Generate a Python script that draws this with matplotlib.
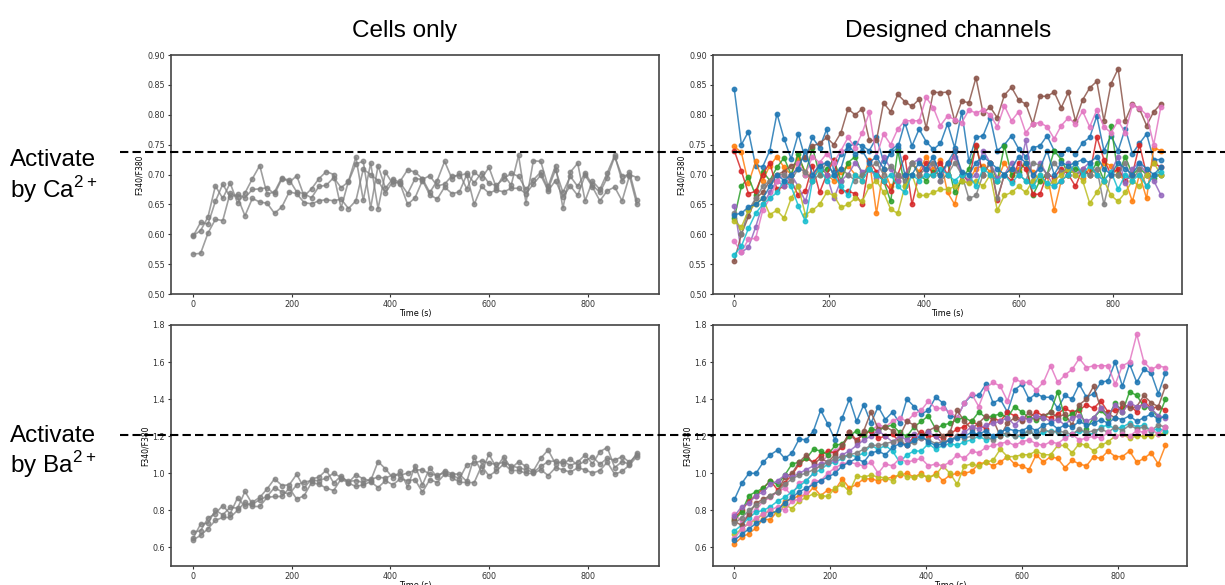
import numpy as np
import matplotlib
matplotlib.use('Agg')
import matplotlib.pyplot as plt
from matplotlib.lines import Line2D

plt.rcParams['mathtext.fontset'] = 'custom'
plt.rcParams['mathtext.rm'] = 'Liberation Sans'

# time axis, one reading every 15 s
time_s = np.arange(0, 901, 15)

# ---- Ca2+ activation, cells only (three wells) ----
ca_cells_1 = [
    .598, .606, .629, .681, .660, .686, .652, .669, .693, .715,
    .667, .671, .695, .687, .698, .664, .676, .693, .705, .700,
    .644, .689, .729, .657, .719, .643, .704, .684, .689, .708,
    .704, .693, .670, .690, .722, .693, .702, .676, .704, .694,
    .712, .678, .700, .682, .732, .653, .723, .722, .680, .715,
    .644, .704, .719, .656, .689, .675, .703, .732, .689, .704,
    .657]
ca_cells_2 = [
    .597, .620, .617, .655, .684, .662, .667, .661, .675, .676,
    .678, .667, .693, .691, .671, .668, .661, .680, .682, .695,
    .678, .688, .718, .722, .644, .715, .677, .693, .686, .668,
    .693, .692, .698, .681, .684, .698, .698, .702, .686, .703,
    .685, .682, .693, .702, .697, .675, .691, .704, .676, .708,
    .670, .697, .680, .703, .682, .670, .695, .730, .697, .700,
    .695]
ca_cells_3 = [
    .567, .568, .602, .625, .623, .669, .662, .631, .660, .654,
    .652, .635, .646, .671, .668, .653, .651, .656, .658, .656,
    .659, .643, .656, .709, .700, .690, .669, .689, .684, .650,
    .661, .690, .666, .659, .679, .668, .671, .700, .650, .680,
    .669, .674, .671, .677, .677, .668, .684, .699, .673, .690,
    .662, .681, .665, .699, .679, .656, .673, .679, .656, .698,
    .650]

# ---- Ba2+ activation, cells only ----
ba_cells_1 = [
    .683, .690, .758, .783, .826, .781, .868, .821, .844, .870,
    .916, .970, .934, .938, .995, .920, .970, .979, 1.017, .947,
    .986, .950, .992, .970, .960, 1.063, 1.024, .975, 1.010, .925,
    1.042, .938, 1.029, .979, 1.015, .997, .995, .956, 1.087, 1.006,
    1.103, 1.030, 1.089, 1.027, 1.062, 1.037, 1.013, 1.081, 1.126, 1.050,
    1.067, 1.042, 1.060, 1.099, 1.051, 1.117, 1.139, 1.031, 1.063, 1.049,
    1.110]
ba_cells_2 = [
    .650, .726, .731, .801, .776, .816, .812, .902, .834, .857,
    .875, .923, .900, .887, .938, .952, .961, .961, .974, 1.001,
    .977, .956, .961, .950, .968, .979, .974, .992, .990, 1.001,
    1.017, 1.019, .995, .990, 1.002, .990, .970, 1.046, 1.056, 1.067,
    1.054, 1.049, 1.060, 1.040, 1.030, 1.020, 1.005, 1.037, 1.063, 1.067,
    1.049, 1.078, 1.042, 1.067, 1.090, 1.049, 1.081, 1.071, 1.090, 1.060,
    1.099]
ba_cells_3 = [
    .641, .665, .701, .746, .762, .762, .800, .844, .821, .821,
    .870, .875, .875, .920, .861, .879, .950, .941, .920, .907,
    .970, .947, .929, .938, .955, .923, .960, .938, .970, .960,
    .966, .898, .966, .950, .995, .977, .952, .950, .950, 1.040,
    .986, 1.013, 1.050, 1.015, 1.015, 1.000, .999, 1.020, .988, 1.030,
    1.019, 1.006, 1.030, 1.019, 1.001, 1.015, 1.060, .995, 1.010, 1.045,
    1.090]

# ---- Ca2+ activation, designed channels ----
ca_chan = [
    ('#1f77b4', [
        .843, .750, .772, .715, .713, .740, .802, .760, .726, .768,
        .726, .762, .745, .776, .705, .735, .745, .753, .748, .740,
        .762, .722, .735, .745, .787, .748, .776, .755, .742, .752,
        .785, .745, .805, .722, .762, .765, .795, .740, .750, .765,
        .743, .730, .745, .748, .765, .740, .735, .742, .735, .753,
        .762, .798, .740, .765, .740, .777, .735, .752, .768, .725,
        .725]),
    ('#ff7f0e', [
        .747, .737, .685, .722, .690, .715, .730, .712, .700, .728,
        .705, .690, .715, .700, .690, .705, .715, .700, .690, .725,
        .635, .710, .680, .690, .700, .720, .705, .730, .710, .725,
        .670, .650, .700, .690, .710, .715, .705, .690, .720, .700,
        .710, .720, .705, .690, .700, .640, .690, .700, .720, .695,
        .710, .700, .720, .715, .700, .690, .655, .700, .660, .745,
        .740]),
    ('#2ca02c', [
        .627, .680, .696, .665, .705, .690, .712, .728, .700, .735,
        .700, .745, .700, .710, .725, .690, .720, .730, .700, .710,
        .700, .690, .655, .740, .680, .720, .700, .690, .705, .700,
        .720, .670, .690, .710, .748, .700, .720, .690, .748, .700,
        .705, .720, .665, .690, .700, .740, .725, .700, .710, .705,
        .700, .720, .690, .782, .700, .730, .700, .710, .700, .695,
        .700]),
    ('#d62728', [
        .740, .706, .668, .672, .700, .720, .675, .680, .690, .665,
        .672, .715, .670, .700, .725, .673, .672, .668, .650, .722,
        .705, .690, .673, .700, .730, .650, .700, .720, .700, .720,
        .700, .740, .700, .688, .750, .700, .720, .658, .700, .690,
        .720, .710, .667, .667, .700, .695, .710, .700, .680, .710,
        .700, .763, .725, .700, .710, .690, .700, .750, .700, .720,
        .712]),
    ('#9467bd', [
        .647, .570, .578, .612, .650, .670, .690, .680, .700, .680,
        .655, .695, .720, .700, .660, .690, .700, .720, .705, .710,
        .695, .730, .710, .690, .700, .720, .725, .700, .720, .690,
        .720, .730, .700, .690, .700, .740, .720, .695, .700, .720,
        .700, .757, .690, .720, .700, .680, .690, .720, .700, .710,
        .720, .700, .690, .705, .730, .685, .710, .720, .700, .690,
        .666]),
    ('#8c564b', [
        .555, .600, .630, .660, .670, .690, .700, .705, .715, .720,
        .730, .748, .752, .762, .750, .770, .810, .800, .810, .757,
        .757, .820, .805, .834, .822, .814, .826, .778, .838, .837,
        .838, .790, .823, .820, .862, .803, .813, .795, .833, .846,
        .825, .818, .785, .831, .831, .838, .812, .838, .790, .825,
        .845, .856, .790, .852, .877, .790, .818, .810, .782, .805,
        .818]),
    ('#e377c2', [
        .588, .570, .592, .593, .640, .660, .690, .700, .690, .720,
        .700, .730, .720, .735, .720, .740, .762, .745, .770, .804,
        .730, .768, .750, .776, .790, .790, .790, .829, .812, .782,
        .798, .792, .787, .808, .803, .808, .800, .780, .815, .790,
        .805, .770, .785, .787, .780, .760, .782, .795, .785, .806,
        .780, .808, .780, .770, .790, .770, .816, .811, .800, .750,
        .813]),
    ('#7f7f7f', [
        .635, .600, .640, .660, .680, .690, .700, .700, .690, .710,
        .705, .690, .700, .720, .700, .710, .700, .690, .700, .710,
        .720, .700, .715, .700, .690, .720, .700, .710, .720, .690,
        .700, .720, .700, .660, .665, .700, .720, .660, .700, .710,
        .700, .690, .720, .715, .700, .720, .705, .710, .700, .705,
        .700, .710, .650, .700, .700, .720, .690, .710, .680, .700,
        .700]),
    ('#bcbd22', [
        .622, .612, .640, .650, .660, .633, .640, .627, .660, .680,
        .633, .640, .650, .670, .665, .645, .650, .660, .655, .680,
        .690, .670, .642, .635, .680, .700, .665, .665, .670, .675,
        .675, .680, .690, .685, .690, .680, .700, .640, .665, .670,
        .680, .670, .690, .700, .680, .690, .700, .710, .700, .690,
        .652, .670, .690, .665, .655, .670, .690, .680, .700, .720,
        .700]),
    ('#17becf', [
        .566, .580, .610, .635, .650, .660, .670, .690, .680, .648,
        .622, .690, .710, .690, .700, .680, .665, .700, .690, .710,
        .700, .690, .700, .680, .670, .700, .690, .700, .700, .710,
        .700, .690, .700, .700, .680, .710, .700, .690, .700, .685,
        .700, .690, .680, .700, .685, .680, .690, .700, .720, .700,
        .715, .700, .690, .705, .675, .700, .690, .700, .680, .700,
        .705]),
    ('#1f77b4', [
        .633, .635, .646, .650, .660, .680, .700, .690, .700, .710,
        .740, .700, .715, .720, .700, .710, .750, .735, .740, .720,
        .730, .710, .740, .750, .700, .700, .720, .710, .730, .700,
        .720, .740, .705, .700, .720, .730, .720, .710, .700, .710,
        .730, .720, .700, .710, .740, .700, .720, .715, .720, .725,
        .720, .730, .710, .700, .720, .710, .700, .720, .710, .700,
        .712]),
]

# ---- Ba2+ activation, designed channels ----
ba_chan = [
    ('#1f77b4', [
        .860, .945, 1.000, 1.000, 1.060, 1.100, 1.125, 1.080, 1.110, 1.185,
        1.180, 1.230, 1.340, 1.265, 1.180, 1.300, 1.400, 1.280, 1.370, 1.270,
        1.360, 1.290, 1.330, 1.270, 1.400, 1.360, 1.320, 1.340, 1.410, 1.380,
        1.310, 1.300, 1.380, 1.420, 1.420, 1.480, 1.380, 1.400, 1.330, 1.450,
        1.480, 1.400, 1.430, 1.410, 1.410, 1.350, 1.420, 1.400, 1.480, 1.410,
        1.430, 1.490, 1.500, 1.600, 1.470, 1.590, 1.490, 1.560, 1.540, 1.430,
        1.540]),
    ('#e377c2', [
        .780, .740, .780, .800, .850, .870, .900, .920, .880, .950,
        .960, 1.000, 1.050, 1.100, 1.120, 1.150, 1.200, 1.180, 1.220, 1.230,
        1.260, 1.250, 1.280, 1.300, 1.280, 1.320, 1.340, 1.390, 1.350, 1.350,
        1.330, 1.300, 1.380, 1.430, 1.360, 1.460, 1.490, 1.470, 1.390, 1.510,
        1.490, 1.490, 1.450, 1.490, 1.580, 1.490, 1.530, 1.560, 1.620, 1.570,
        1.580, 1.580, 1.580, 1.480, 1.580, 1.600, 1.750, 1.600, 1.560, 1.580,
        1.570]),
    ('#ff7f0e', [
        .620, .655, .675, .705, .755, .748, .800, .850, .860, .880,
        .880, .925, .880, .910, .910, .970, .920, .940, .970, .970,
        .960, .970, .980, .990, 1.000, .980, 1.000, .970, 1.000, .960,
        .990, 1.000, 1.000, 1.010, 1.050, 1.060, 1.040, 1.060, 1.090, 1.050,
        1.040, 1.020, 1.100, 1.060, 1.090, 1.080, 1.030, 1.070, 1.050, 1.040,
        1.090, 1.080, 1.120, 1.090, 1.090, 1.120, 1.060, 1.080, 1.110, 1.050,
        1.150]),
    ('#bcbd22', [
        .670, .700, .730, .750, .780, .800, .780, .830, .810, .850,
        .870, .890, .880, .875, .920, .940, .900, .985, .980, .990,
        .980, .975, .960, 1.000, .980, .980, .990, .980, .990, 1.040,
        1.000, .940, 1.040, 1.050, 1.040, 1.060, 1.070, 1.130, 1.090, 1.090,
        1.100, 1.100, 1.120, 1.100, 1.100, 1.150, 1.150, 1.110, 1.160, 1.150,
        1.120, 1.150, 1.170, 1.200, 1.210, 1.190, 1.200, 1.200, 1.200, 1.210,
        1.220]),
    ('#17becf', [
        .690, .720, .760, .790, .800, .820, .850, .870, .900, .930,
        .960, 1.000, 1.020, 1.050, 1.060, 1.080, 1.100, 1.090, 1.110, 1.150,
        1.130, 1.150, 1.120, 1.060, 1.100, 1.120, 1.120, 1.160, 1.130, 1.150,
        1.160, 1.150, 1.170, 1.180, 1.200, 1.180, 1.190, 1.200, 1.210, 1.200,
        1.200, 1.230, 1.200, 1.220, 1.230, 1.220, 1.200, 1.210, 1.230, 1.220,
        1.210, 1.250, 1.260, 1.240, 1.250, 1.270, 1.250, 1.260, 1.230, 1.240,
        1.230]),
    ('#d62728', [
        .760, .800, .850, .880, .920, .960, .910, .950, .990, 1.050,
        1.080, 1.060, 1.100, 1.120, 1.110, 1.140, 1.220, 1.180, 1.210, 1.230,
        1.190, 1.200, 1.210, 1.170, 1.150, 1.200, 1.220, 1.200, 1.200, 1.190,
        1.210, 1.240, 1.250, 1.280, 1.260, 1.240, 1.300, 1.280, 1.330, 1.310,
        1.290, 1.300, 1.330, 1.310, 1.300, 1.320, 1.350, 1.330, 1.340, 1.370,
        1.350, 1.390, 1.330, 1.340, 1.350, 1.370, 1.330, 1.390, 1.350, 1.360,
        1.340]),
    ('#2ca02c', [
        .750, .790, .880, .900, .920, .960, .940, .990, 1.050, 1.060,
        1.080, 1.130, 1.120, 1.100, 1.150, 1.160, 1.200, 1.230, 1.200, 1.240,
        1.230, 1.250, 1.260, 1.220, 1.200, 1.250, 1.280, 1.310, 1.240, 1.260,
        1.270, 1.290, 1.300, 1.280, 1.330, 1.300, 1.310, 1.320, 1.300, 1.360,
        1.330, 1.300, 1.290, 1.300, 1.330, 1.440, 1.300, 1.320, 1.350, 1.240,
        1.300, 1.340, 1.300, 1.380, 1.330, 1.440, 1.420, 1.360, 1.350, 1.300,
        1.400]),
    ('#8c564b', [
        .740, .720, .780, .840, .860, .880, .900, .980, 1.000, 1.060,
        1.100, 1.050, 1.080, 1.060, 1.100, 1.150, 1.220, 1.170, 1.230, 1.330,
        1.240, 1.250, 1.230, 1.200, 1.280, 1.260, 1.200, 1.230, 1.250, 1.200,
        1.220, 1.340, 1.280, 1.240, 1.270, 1.310, 1.290, 1.200, 1.270, 1.300,
        1.280, 1.330, 1.300, 1.310, 1.330, 1.300, 1.320, 1.260, 1.370, 1.400,
        1.470, 1.350, 1.320, 1.300, 1.380, 1.350, 1.360, 1.420, 1.380, 1.360,
        1.470]),
    ('#9467bd', [
        .770, .820, .840, .880, .900, .940, .960, .990, .980, 1.000,
        1.020, 1.040, 1.050, 1.060, 1.070, 1.100, 1.120, 1.150, 1.180, 1.200,
        1.230, 1.200, 1.170, 1.200, 1.180, 1.210, 1.190, 1.220, 1.200, 1.160,
        1.180, 1.200, 1.220, 1.250, 1.240, 1.260, 1.270, 1.280, 1.300, 1.260,
        1.300, 1.290, 1.310, 1.300, 1.280, 1.290, 1.260, 1.300, 1.310, 1.280,
        1.300, 1.350, 1.310, 1.370, 1.330, 1.380, 1.360, 1.370, 1.350, 1.310,
        1.300]),
    ('#7f7f7f', [
        .730, .760, .800, .830, .850, .880, .900, .940, .970, .990,
        1.000, 1.020, 1.040, 1.060, 1.080, 1.090, 1.100, 1.110, 1.130, 1.150,
        1.150, 1.160, 1.170, 1.180, 1.150, 1.170, 1.190, 1.180, 1.160, 1.170,
        1.180, 1.200, 1.190, 1.200, 1.210, 1.200, 1.180, 1.220, 1.210, 1.200,
        1.210, 1.230, 1.200, 1.240, 1.220, 1.230, 1.220, 1.210, 1.240, 1.220,
        1.230, 1.240, 1.220, 1.250, 1.230, 1.260, 1.240, 1.250, 1.230, 1.260,
        1.250]),
    ('#e377c2', [
        .650, .700, .730, .760, .780, .800, .820, .800, .850, .860,
        .900, .960, .960, 1.000, 1.030, 1.050, 1.060, 1.050, 1.040, 1.060,
        1.000, 1.050, 1.040, 1.080, 1.060, 1.070, 1.080, 1.040, 1.050, 1.040,
        1.060, 1.100, 1.080, 1.120, 1.110, 1.140, 1.150, 1.160, 1.170, 1.150,
        1.170, 1.180, 1.160, 1.150, 1.170, 1.160, 1.190, 1.210, 1.180, 1.190,
        1.200, 1.190, 1.220, 1.200, 1.210, 1.200, 1.230, 1.220, 1.240, 1.210,
        1.250]),
    ('#1f77b4', [
        .640, .670, .700, .730, .750, .780, .800, .840, .870, .900,
        .920, .940, .960, .980, 1.000, 1.040, 1.060, 1.080, 1.060, 1.110,
        1.120, 1.100, 1.140, 1.160, 1.150, 1.180, 1.200, 1.170, 1.150, 1.160,
        1.180, 1.190, 1.200, 1.220, 1.210, 1.230, 1.200, 1.220, 1.240, 1.230,
        1.230, 1.250, 1.230, 1.260, 1.270, 1.240, 1.260, 1.250, 1.280, 1.260,
        1.270, 1.290, 1.270, 1.300, 1.290, 1.310, 1.280, 1.300, 1.320, 1.290,
        1.310]),
]

# threshold lines (figure-wide dashed markers) in data units of the right panels
ca_threshold = 0.738
ba_threshold = 1.205


def style_axes(ax, ylim, yticks):
    ax.set_xlim(-45, 945)
    ax.set_ylim(*ylim)
    ax.set_yticks(yticks)
    ax.set_xticks([0, 200, 400, 600, 800])
    ax.tick_params(labelsize=5.8, length=2.5, width=0.8, pad=2, colors='#333333')
    for sp in ax.spines.values():
        sp.set_color('#444444')
        sp.set_linewidth(1.2)
    ax.set_xlabel('Time (s)', fontsize=5.8, labelpad=0)
    ax.set_ylabel('F340/F380', fontsize=5.5, labelpad=2)


fig = plt.figure(figsize=(12.25, 5.85), dpi=100)

ax_tl = fig.add_axes([0.1396, 0.4974, 0.3984, 0.4085])
ax_tr = fig.add_axes([0.5820, 0.4974, 0.3830, 0.4085])
ax_bl = fig.add_axes([0.1396, 0.0325, 0.3984, 0.4120])
ax_br = fig.add_axes([0.5820, 0.0325, 0.3870, 0.4120])

gray_kw = dict(color='gray', alpha=0.75, marker='o', markersize=3.2, linewidth=1.2)
for s in (ca_cells_1, ca_cells_2, ca_cells_3):
    ax_tl.plot(time_s, s, **gray_kw)
for s in (ba_cells_1, ba_cells_2, ba_cells_3):
    ax_bl.plot(time_s, s, **gray_kw)

for col, s in ca_chan:
    ax_tr.plot(time_s, s, color=col, alpha=0.85, marker='o', markersize=3.2, linewidth=1.1)
for col, s in ba_chan:
    ax_br.plot(time_s, s, color=col, alpha=0.85, marker='o', markersize=3.2, linewidth=1.1)

ca_ticks = [0.50, 0.55, 0.60, 0.65, 0.70, 0.75, 0.80, 0.85, 0.90]
ba_ticks = [0.6, 0.8, 1.0, 1.2, 1.4, 1.6, 1.8]
style_axes(ax_tl, (0.5, 0.9), ca_ticks)
style_axes(ax_tr, (0.5, 0.9), ca_ticks)
style_axes(ax_bl, (0.5, 1.8), ba_ticks)
style_axes(ax_br, (0.5, 1.8), ba_ticks)
for ax in (ax_tl, ax_tr):
    ax.yaxis.set_major_formatter(matplotlib.ticker.FormatStrFormatter('%.2f'))
for ax in (ax_bl, ax_br):
    ax.yaxis.set_major_formatter(matplotlib.ticker.FormatStrFormatter('%.1f'))

# dashed threshold lines running across the whole figure
fig.canvas.draw()
for ax, thr in ((ax_tr, ca_threshold), (ax_br, ba_threshold)):
    y_fig = fig.transFigure.inverted().transform(ax.transData.transform((0, thr)))[1]
    fig.add_artist(Line2D([0.098, 1.0], [y_fig, y_fig], transform=fig.transFigure,
                          color='black', linewidth=1.5, dashes=(4, 2)))

# column titles and row labels
title_kw = dict(fontsize=17.5, family='Liberation Sans', ha='center', va='baseline')
fig.text(0.3306, 0.9368, 'Cells only', **title_kw)
fig.text(0.7740, 0.9368, 'Designed channels', **title_kw)

row_kw = dict(fontsize=17.5, family='Liberation Sans', ha='left', va='baseline')
fig.text(0.008, 0.7160, 'Activate', **row_kw)
fig.text(0.008, 0.6610, 'by Ca$^{\\mathregular{2+}}$', **row_kw)
fig.text(0.008, 0.2440, 'Activate', **row_kw)
fig.text(0.008, 0.1920, 'by Ba$^{\\mathregular{2+}}$', **row_kw)

fig.savefig('out.png', dpi=100)
